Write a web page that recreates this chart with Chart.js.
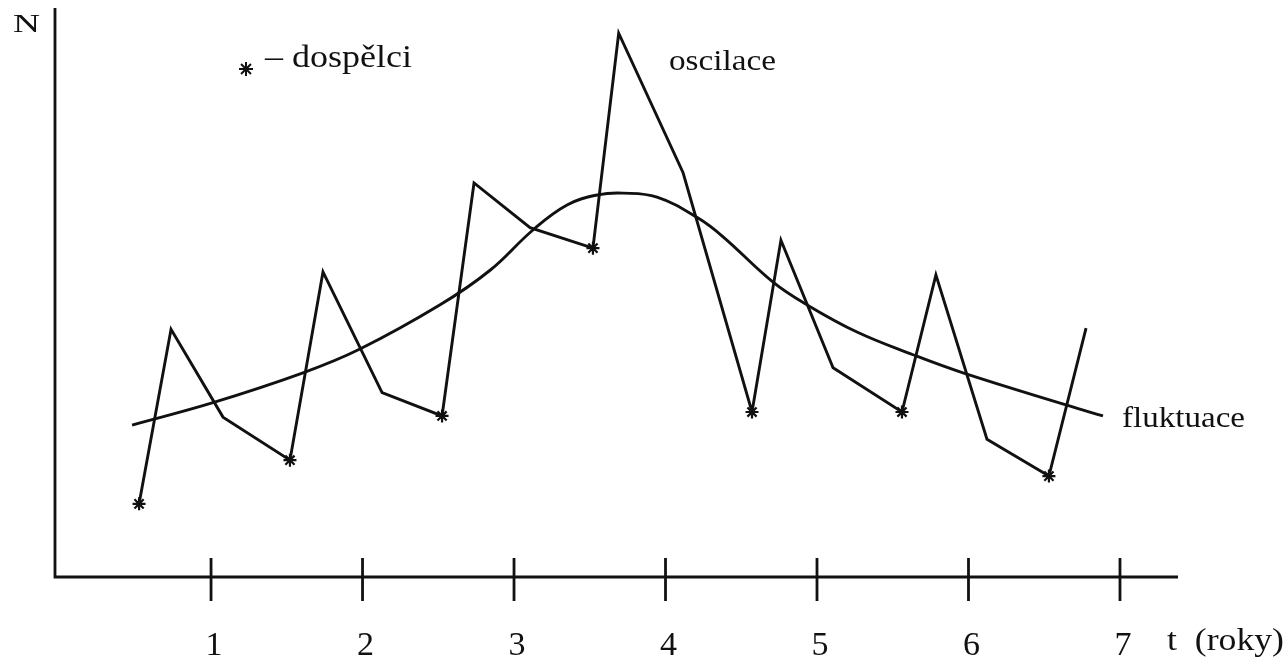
<!DOCTYPE html>
<html>
<head>
<meta charset="utf-8">
<script src="https://cdn.jsdelivr.net/npm/chart.js@4"></script>
<style>
  html, body { margin: 0; padding: 0; background: #fff; }
  #wrap { width: 1287px; height: 661px; position: relative; }
</style>
</head>
<body>
<div id="wrap"><canvas id="c" width="1287" height="661"></canvas></div>
<script>
// ---- data ----
const tickValues = [1, 2, 3, 4, 5, 6, 7];
const tickLabels = ['1', '2', '3', '4', '5', '6', '7'];

// oscilace (zig-zag), t in years, N in arbitrary units
const oscT = [0.525, 0.736, 1.079, 1.521, 1.739, 2.129, 2.525, 2.736, 3.106, 3.521,
              3.691, 4.116, 4.571, 4.762, 5.106, 5.561, 5.785, 6.122, 6.531, 6.776];
const oscN = [12.9, 43.7, 28.2, 20.6, 53.8, 32.5, 28.4, 69.5, 61.6, 58.0,
              95.9, 71.3, 29.1, 59.4, 36.9, 29.1, 53.3, 24.3, 17.8, 43.9];
// points marked as adults (dospělci)
const adultIdx = [0, 3, 6, 9, 12, 15, 18];

// fluktuace (smooth trend)
const flukT = [0.479, 1.007, 1.607, 1.983, 2.512, 2.842, 3.125, 3.350, 3.554, 3.719,
               3.944, 4.215, 4.380, 4.710, 4.934, 5.264, 5.634, 5.964, 6.650, 6.888];
const flukN = [26.8, 30.7, 36.0, 40.2, 48.0, 54.1, 61.2, 65.6, 67.4, 67.7,
               67.0, 63.3, 60.0, 52.0, 48.0, 43.2, 39.2, 36.0, 30.3, 28.4];

const INK = '#111';
const SERIF = '"Liberation Serif", "Times New Roman", Tinos, Times, serif';

function stretchedText(ctx, text, x, baseline, size, targetWidth) {
  ctx.save();
  ctx.font = size + 'px ' + SERIF;
  ctx.fillStyle = INK;
  ctx.textAlign = 'left';
  ctx.textBaseline = 'alphabetic';
  const w = ctx.measureText(text).width;
  const sx = targetWidth ? targetWidth / w : 1;
  ctx.translate(x, baseline);
  ctx.scale(sx, 1);
  ctx.fillText(text, 0, 0);
  ctx.restore();
}

const axesPlugin = {
  id: 'paperAxes',
  afterDraw(chart) {
    const ctx = chart.ctx;
    const ca = chart.chartArea;
    const xs = chart.scales.x;
    ctx.save();
    ctx.strokeStyle = INK;
    ctx.lineWidth = 2.8;
    ctx.lineCap = 'butt';
    ctx.beginPath();
    ctx.moveTo(ca.left, ca.top - 2);
    ctx.lineTo(ca.left, ca.bottom);
    ctx.lineTo(ca.right, ca.bottom);
    ctx.stroke();
    ctx.font = '34px ' + SERIF;
    ctx.fillStyle = INK;
    ctx.textAlign = 'center';
    ctx.textBaseline = 'alphabetic';
    tickValues.forEach((v, i) => {
      const px = xs.getPixelForValue(v);
      ctx.beginPath();
      ctx.moveTo(px, ca.bottom - 19);
      ctx.lineTo(px, ca.bottom + 24);
      ctx.stroke();
      ctx.fillText(tickLabels[i], px + 3, ca.bottom + 78);
    });
    ctx.restore();

    stretchedText(ctx, 'N', 13, 32, 26, 27);
    stretchedText(ctx, 't  (roky)', 1167, ca.bottom + 73, 32, 117);
    stretchedText(ctx, 'oscilace', 669, 70, 29, 107);
    stretchedText(ctx, 'fluktuace', 1122, 427, 29, 123);
    ctx.save();
    ctx.strokeStyle = INK;
    ctx.fillStyle = INK;
    ctx.lineWidth = 2;
    Chart.helpers.drawPoint(ctx, { pointStyle: 'star', radius: 7, rotation: 0, borderWidth: 2 }, 246, 69);
    ctx.restore();
    stretchedText(ctx, '– dospělci', 265, 67, 32, 147);
  }
};

function build() {
  const oscData = oscT.map((t, i) => ({ x: t, y: oscN[i] }));
  const adultData = adultIdx.map(i => ({ x: oscT[i], y: oscN[i] }));
  const flukData = flukT.map((t, i) => ({ x: t, y: flukN[i] }));

  new Chart(document.getElementById('c'), {
    type: 'line',
    data: {
      datasets: [
        { label: 'oscilace', data: oscData, borderColor: INK, borderWidth: 2.9,
          tension: 0, pointRadius: 0, fill: false, clip: false },
        { label: 'fluktuace', data: flukData, borderColor: INK, borderWidth: 2.9,
          tension: 0.4, pointRadius: 0, fill: false, clip: false },
        { label: 'dospělci', data: adultData, showLine: false, pointStyle: 'star',
          pointRadius: 6.5, pointBorderWidth: 2.2, pointBorderColor: INK,
          pointBackgroundColor: INK, clip: false }
      ]
    },
    options: {
      responsive: false,
      devicePixelRatio: 1,
      animation: false,
      layout: { padding: { left: 55, right: 109, top: 10, bottom: 84 } },
      plugins: { legend: { display: false }, tooltip: { enabled: false } },
      scales: {
        x: { type: 'linear', min: -0.03, max: 7.383, display: false },
        y: { type: 'linear', min: 0, max: 100, display: false }
      }
    },
    plugins: [axesPlugin]
  });
}

const loads = ['26px', '29px', '32px', '34px'].map(s =>
  document.fonts.load(s + ' "Liberation Serif"').catch(() => null));
Promise.all(loads).then(build, build);
</script>
</body>
</html>
